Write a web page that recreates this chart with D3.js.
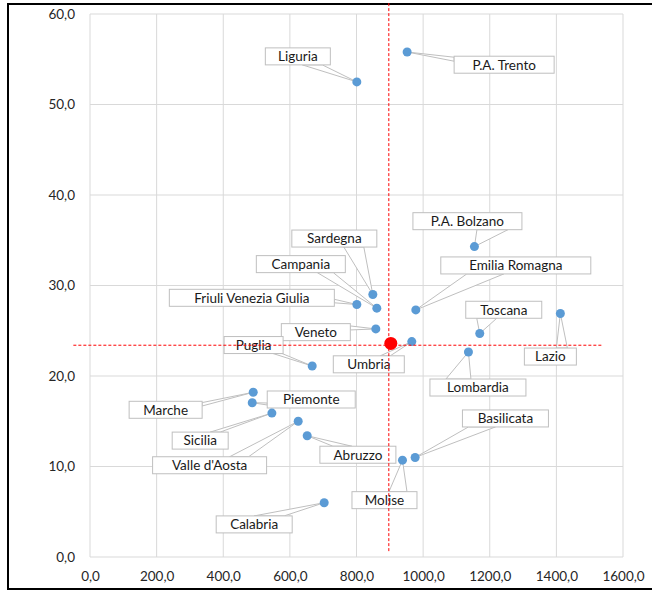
<!DOCTYPE html>
<html>
<head>
<meta charset="utf-8">
<script src="https://cdn.jsdelivr.net/npm/d3@7"></script>
<style>
  body { margin: 0; background: #fff; }
  text { font-family: Lato, "Liberation Sans", sans-serif; }
</style>
</head>
<body>
<div id="chart"></div>
<script>
// regions and their values (x, y)
var regions = ["Liguria", "P.A. Trento", "P.A. Bolzano", "Sardegna", "Campania", "Friuli Venezia Giulia",
  "Emilia Romagna", "Veneto", "Toscana", "Lazio", "Umbria", "Lombardia", "Puglia", "Marche", "Piemonte",
  "Sicilia", "Valle d'Aosta", "Abruzzo", "Basilicata", "Molise", "Calabria"];
var xValues = [801, 952, 1154, 849, 861, 801, 978, 858, 1170, 1412, 966, 1136, 667, 490, 487, 546, 625, 652, 976, 938, 703];
var yValues = [52.5, 55.8, 34.3, 29.0, 27.5, 27.9, 27.3, 25.2, 24.7, 26.9, 23.8, 22.65, 21.1, 18.2, 17.05, 15.9, 15.0, 13.4, 11.0, 10.7, 6.0];

// Italy point and its reference lines
var meanPoint = [903, 23.6];
var refX = 897;
var refY = 23.4;

var xTicks = [0, 200, 400, 600, 800, 1000, 1200, 1400, 1600];
var yTicks = [0, 10, 20, 30, 40, 50, 60];

// label callouts: box centre offset from the point (px), box width, side of the wedge, wedge base positions
var callouts = {
  "Liguria": [-59, -25.5, 65, "b", 37, 57],
  "P.A. Trento": [97, 12.7, 100, "l", 1, 5],
  "P.A. Bolzano": [-7, -25.4, 109, "b", 64, 95],
  "Sardegna": [-38.5, -56, 85, "b", 52, 72],
  "Campania": [-76, -44, 89, "b", 61, 77],
  "Friuli Venezia Giulia": [-105, -6.7, 165, "r", 10, 13.5],
  "Emilia Romagna": [100, -44.5, 150, "b", 26, 63],
  "Veneto": [-60, 3.2, 69, "r", 2.3, 6.3],
  "Toscana": [24, -23.7, 76, "b", 11, 31],
  "Lazio": [-10, 43, 52, "t", 32, 43],
  "Umbria": [-43, 22.7, 71, "t", 47, 57],
  "Lombardia": [9.5, 35.5, 96, "t", 16, 41],
  "Puglia": [-58.6, -21, 59, "b", 49, 58],
  "Marche": [-87.6, 17.5, 73, "r", 1.3, 4.7],
  "Piemonte": [59, -3.2, 88, "l", 12, 14],
  "Sicilia": [-71.7, 27.5, 56, "t", 38, 48],
  "Valle d'Aosta": [-88.6, 44, 114, "t", 77, 96],
  "Abruzzo": [50.7, 19, 76, "t", 13, 32],
  "Basilicata": [90.3, -39, 86, "b", 6, 33],
  "Molise": [-18, 40, 65, "t", 37, 55],
  "Calabria": [-70, 21.7, 76, "t", 38, 68]
};

var width = 652, height = 590;
var margin = {left: 90, right: 29, top: 14, bottom: 33};
var boxH = 17;

var locale = d3.formatLocale({decimal: ",", thousands: "", grouping: [3], currency: ["", "€"]});
var fmt = locale.format(".1f");

var svg = d3.select("#chart").append("svg")
  .attr("width", width)
  .attr("height", height);

// outer frame
svg.append("rect")
  .attr("x", 8).attr("y", 4)
  .attr("width", 660).attr("height", 585)
  .attr("fill", "none")
  .attr("stroke", "#000")
  .attr("stroke-width", 2);

var x = d3.scaleLinear().domain([0, 1600]).range([margin.left, width - margin.right]);
var y = d3.scaleLinear().domain([0, 60]).range([height - margin.bottom, margin.top]);

// gridlines
svg.append("g").selectAll("line").data(xTicks).enter().append("line")
  .attr("x1", function(d) { return x(d); }).attr("x2", function(d) { return x(d); })
  .attr("y1", y(0)).attr("y2", y(60))
  .attr("stroke", "#d9d9d9").attr("stroke-width", 1);
svg.append("g").selectAll("line").data(yTicks).enter().append("line")
  .attr("y1", function(d) { return y(d); }).attr("y2", function(d) { return y(d); })
  .attr("x1", x(0)).attr("x2", x(1600))
  .attr("stroke", "#d9d9d9").attr("stroke-width", 1);

// axes (labels only)
var xAxis = svg.append("g")
  .attr("transform", "translate(0," + y(0) + ")")
  .call(d3.axisBottom(x).tickValues(xTicks).tickFormat(fmt).tickSize(0).tickPadding(14));
var yAxis = svg.append("g")
  .attr("transform", "translate(" + x(0) + ",0)")
  .call(d3.axisLeft(y).tickValues(yTicks).tickFormat(fmt).tickSize(0).tickPadding(15));
[xAxis, yAxis].forEach(function(a) {
  a.select(".domain").remove();
  a.selectAll("text")
    .attr("fill", "#262626")
    .style("font-family", "Lato, 'Liberation Sans', sans-serif")
    .style("font-size", "13.5px");
});

var pts = regions.map(function(r, i) {
  var px = x(xValues[i]), py = y(yValues[i]);
  var c = callouts[r];
  var bx = px + c[0] - c[2] / 2, by = py + c[1] - boxH / 2;
  var a, b;
  if (c[3] == "b") { a = [bx + c[4], by + boxH]; b = [bx + c[5], by + boxH]; }
  else if (c[3] == "t") { a = [bx + c[4], by]; b = [bx + c[5], by]; }
  else if (c[3] == "l") { a = [bx, by + c[4]]; b = [bx, by + c[5]]; }
  else { a = [bx + c[2], by + c[4]]; b = [bx + c[2], by + c[5]]; }
  return {name: r, px: px, py: py, bx: bx, by: by, w: c[2], a: a, b: b};
});

// callout wedges
svg.append("g").selectAll("path").data(pts).enter().append("path")
  .attr("d", function(d) { return "M" + d.a + "L" + [d.px, d.py] + "L" + d.b + "Z"; })
  .attr("fill", "#fff")
  .attr("stroke", "#bfbfbf")
  .attr("stroke-width", 1);

// label boxes
var lab = svg.append("g").selectAll("g").data(pts).enter().append("g");
lab.append("rect")
  .attr("x", function(d) { return d.bx; })
  .attr("y", function(d) { return d.by; })
  .attr("width", function(d) { return d.w; })
  .attr("height", boxH)
  .attr("fill", "#fff")
  .attr("stroke", "#bfbfbf")
  .attr("stroke-width", 1);
lab.append("text")
  .attr("x", function(d) { return d.bx + d.w / 2; })
  .attr("y", function(d) { return d.by + boxH / 2; })
  .attr("dy", "0.36em")
  .attr("text-anchor", "middle")
  .attr("fill", "#1a1a1a")
  .style("font-size", "13.5px")
  .text(function(d) { return d.name; });

// points
svg.append("g").selectAll("circle").data(pts).enter().append("circle")
  .attr("cx", function(d) { return d.px; })
  .attr("cy", function(d) { return d.py; })
  .attr("r", 4.5)
  .attr("fill", "#5b9bd5");

// red reference lines and Italy point
svg.append("line")
  .attr("x1", x(refX)).attr("x2", x(refX))
  .attr("y1", y(61.2)).attr("y2", y(0.6))
  .attr("stroke", "#ff0000").attr("stroke-width", 1)
  .attr("stroke-dasharray", "3,2");
svg.append("line")
  .attr("x1", x(-50)).attr("x2", x(1540))
  .attr("y1", y(refY)).attr("y2", y(refY))
  .attr("stroke", "#ff0000").attr("stroke-width", 1)
  .attr("stroke-dasharray", "3,2");
svg.append("circle")
  .attr("cx", x(meanPoint[0]))
  .attr("cy", y(meanPoint[1]))
  .attr("r", 6.5)
  .attr("fill", "#ff0000");
</script>
</body>
</html>
